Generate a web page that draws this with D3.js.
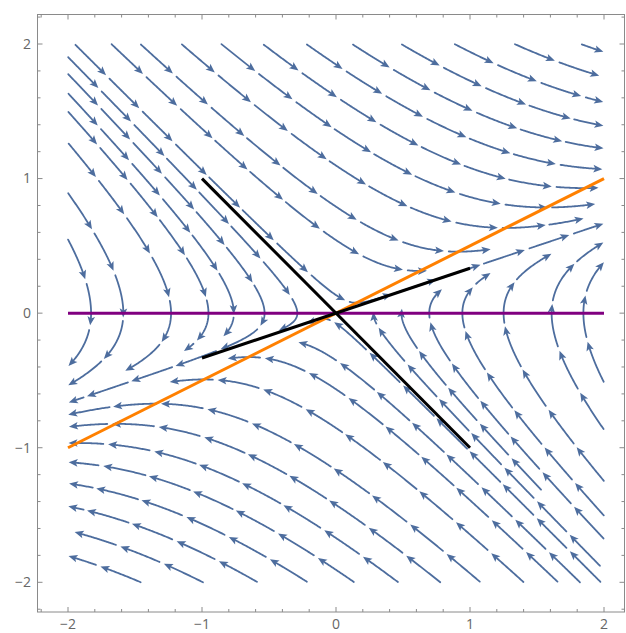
<!DOCTYPE html>
<html>
<head>
<meta charset="utf-8">
<script src="https://cdn.jsdelivr.net/npm/d3@7"></script>
<style>
  body { margin: 0; background: #fff; }
  svg { display: block; }
  .tick-label { font-family: "Open Sans", "DejaVu Sans", sans-serif; font-size: 14px; fill: #666; }
</style>
</head>
<body>
<svg></svg>
<script>
// linear system dx/dt = a x + b y, dy/dt = c x + d y
const fieldMatrix = [[0, 3], [1, -2]];

// overlay lines: [x1, y1, x2, y2]
const purpleLine = [-2, 0, 2, 0];
const orangeLine = [-2, -1, 2, 1];
const blackLines = [
  [-1, 1, 1, -1],
  [-1, -1 / 3, 1, 1 / 3]
];

const majorTicks = [-2, -1, 0, 1, 2];
const minorTicks = d3.range(-22, 23, 2).map(d => d / 10);

const width = 626;
const height = 633;

const svg = d3.select("svg")
  .attr("width", width)
  .attr("height", height);

const x = d3.scaleLinear().domain([-2, 2]).range([68, 604]);
const y = d3.scaleLinear().domain([-2, 2]).range([582.3, 44]);

const frame = {left: 37.5, right: 624.5, top: 14.5, bottom: 612};

const streamColor = "#4d6d9e";

// ---------- streamlines (evenly spaced) ----------

const kx = (x(1) - x(0));
const ky = (y(0) - y(1));

function vel(p) {
  const dx = x.invert(p[0]), dy = y.invert(p[1]);
  const u = fieldMatrix[0][0] * dx + fieldMatrix[0][1] * dy;
  const v = fieldMatrix[1][0] * dx + fieldMatrix[1][1] * dy;
  const pu = u * kx, pv = -v * ky;
  const s = Math.hypot(pu, pv) || 1e-9;
  return {vx: pu / s, vy: pv / s, speed: Math.hypot(u, v)};
}

const dsep = 26;
const dtest = 11;
const step = 1.2;
const x0 = x(-2), x1 = x(2), y0 = y(2), y1 = y(-2);

const cell = dsep;
const cols = Math.ceil((x1 - x0) / cell) + 1;
const grid = new Map();

function inBounds(p) {
  return p[0] >= x0 && p[0] <= x1 && p[1] >= y0 && p[1] <= y1;
}

function isFree(p, d) {
  const ci = Math.floor((p[0] - x0) / cell), cj = Math.floor((p[1] - y0) / cell);
  for (let i = ci - 1; i <= ci + 1; i++) {
    for (let j = cj - 1; j <= cj + 1; j++) {
      const pts = grid.get(i + j * cols);
      if (!pts) continue;
      for (const q of pts) {
        if ((q[0] - p[0]) ** 2 + (q[1] - p[1]) ** 2 < d * d) return false;
      }
    }
  }
  return true;
}

function addToGrid(line) {
  line.forEach(p => {
    const key = Math.floor((p[0] - x0) / cell) + Math.floor((p[1] - y0) / cell) * cols;
    if (!grid.has(key)) grid.set(key, []);
    grid.get(key).push(p);
  });
}

function trace(seed, dir) {
  const pts = [];
  let p = seed;
  for (let n = 0; n < 800; n++) {
    const k1 = vel(p);
    if (k1.speed < 0.06) break;
    const mid = [p[0] + 0.5 * step * dir * k1.vx, p[1] + 0.5 * step * dir * k1.vy];
    const k2 = vel(mid);
    const q = [p[0] + step * dir * k2.vx, p[1] + step * dir * k2.vy];
    if (!inBounds(q)) break;
    if (!isFree(q, dtest)) break;
    pts.push(q);
    p = q;
  }
  return pts;
}

function streamline(seed) {
  if (!inBounds(seed) || !isFree(seed, dsep * 0.9)) return null;
  if (vel(seed).speed < 0.06) return null;
  const back = trace(seed, -1).reverse();
  const fwd = trace(seed, 1);
  const line = back.concat([seed], fwd);
  if (line.length * step < 24) return null;
  return line;
}

const lines = [];
const queue = [];

function tryAdd(seed) {
  const line = streamline(seed);
  if (!line) return;
  addToGrid(line);
  lines.push(line);
  queue.push(line);
}

function grow() {
  while (queue.length) {
    const line = queue.shift();
    for (let i = 0; i < line.length; i += 4) {
      const v = vel(line[i]);
      const nx = -v.vy, ny = v.vx;
      tryAdd([line[i][0] + nx * dsep, line[i][1] + ny * dsep]);
      tryAdd([line[i][0] - nx * dsep, line[i][1] - ny * dsep]);
    }
  }
}

tryAdd([x(-1.9), y(1.95)]);
grow();
for (let gy = y0 + 4; gy <= y1; gy += dsep / 2) {
  for (let gx = x0 + 4; gx <= x1; gx += dsep / 2) {
    tryAdd([gx, gy]);
    grow();
  }
}

// split each streamline into arrow pieces
const pieceLen = 44;
const gap = 3;
const headLen = 9;
const pieces = [];

lines.forEach(line => {
  const cum = [0];
  for (let i = 1; i < line.length; i++) {
    cum.push(cum[i - 1] + Math.hypot(line[i][0] - line[i - 1][0], line[i][1] - line[i - 1][1]));
  }
  const total = cum[cum.length - 1];
  let s = 0;
  while (s < total - 12) {
    const e = Math.min(s + pieceLen, total);
    const pts = line.filter((p, i) => cum[i] >= s && cum[i] <= e);
    if (pts.length > 2) pieces.push(pts);
    s = e + gap;
  }
});

const streams = svg.append("g");

pieces.forEach(pts => {
  const tip = pts[pts.length - 1];
  const prev = pts[Math.max(0, pts.length - 5)];
  const ang = Math.atan2(tip[1] - prev[1], tip[0] - prev[0]);
  const body = pts.filter(p => Math.hypot(p[0] - tip[0], p[1] - tip[1]) > headLen - 2);

  streams.append("path")
    .attr("d", d3.line()(body))
    .attr("fill", "none")
    .attr("stroke", streamColor)
    .attr("stroke-width", 1.8)
    .attr("stroke-linecap", "round");

  streams.append("path")
    .attr("d", `M0,0 L${-headLen},${-3.8} L${-headLen + 2},0 L${-headLen},${3.8} Z`)
    .attr("transform", `translate(${tip[0]},${tip[1]}) rotate(${ang * 180 / Math.PI})`)
    .attr("fill", streamColor);
});

// ---------- overlay lines ----------

function drawLine(seg, color) {
  svg.append("line")
    .attr("x1", x(seg[0]))
    .attr("y1", y(seg[1]))
    .attr("x2", x(seg[2]))
    .attr("y2", y(seg[3]))
    .attr("stroke", color)
    .attr("stroke-width", 3);
}

drawLine(purpleLine, "#800080");
drawLine(orangeLine, "#ff8000");
blackLines.forEach(seg => drawLine(seg, "#000"));

// ---------- frame & ticks ----------

const axisColor = "#8a8a8a";

svg.append("rect")
  .attr("x", frame.left)
  .attr("y", frame.top)
  .attr("width", frame.right - frame.left)
  .attr("height", frame.bottom - frame.top)
  .attr("fill", "none")
  .attr("stroke", axisColor)
  .attr("stroke-width", 1);

const ticks = svg.append("g").attr("stroke", axisColor).attr("stroke-width", 1);

minorTicks.forEach(t => {
  const major = majorTicks.includes(Math.round(t * 10) / 10);
  const len = major ? 5 : 3;
  const px = x(t), py = y(t);
  if (px > frame.left && px < frame.right) {
    ticks.append("line").attr("x1", px).attr("x2", px).attr("y1", frame.bottom).attr("y2", frame.bottom - len);
    ticks.append("line").attr("x1", px).attr("x2", px).attr("y1", frame.top).attr("y2", frame.top + len);
  }
  if (py > frame.top && py < frame.bottom) {
    ticks.append("line").attr("y1", py).attr("y2", py).attr("x1", frame.left).attr("x2", frame.left + len);
    ticks.append("line").attr("y1", py).attr("y2", py).attr("x1", frame.right).attr("x2", frame.right - len);
  }
});

const fmt = d => d < 0 ? "\u2212" + Math.abs(d) : String(d);

svg.selectAll(".xl")
  .data(majorTicks)
  .join("text")
  .attr("class", "tick-label")
  .attr("x", d => x(d))
  .attr("y", 629)
  .attr("text-anchor", "middle")
  .text(fmt);

svg.selectAll(".yl")
  .data(majorTicks)
  .join("text")
  .attr("class", "tick-label")
  .attr("x", 31)
  .attr("y", d => y(d))
  .attr("dy", "0.35em")
  .attr("text-anchor", "end")
  .text(fmt);
</script>
</body>
</html>
